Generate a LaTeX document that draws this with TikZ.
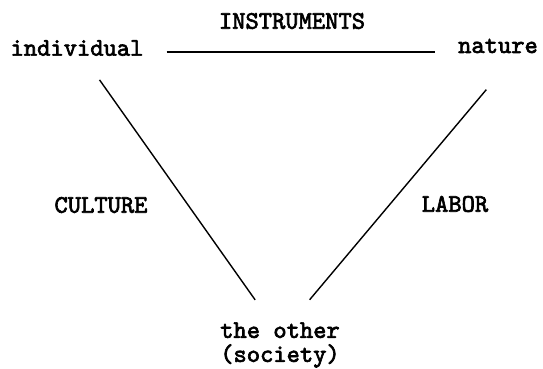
\documentclass[tikz,border=0pt]{standalone}
\usepackage{fontspec}
\newfontfamily\typewriter[Extension=.otf, FakeBold=2.6]{lmmono10-regular}
\usetikzlibrary{positioning}

\begin{document}
\begin{tikzpicture}[x=1pt,y=-1pt,
        % words of the triangle, in typewriter type
        word/.style={
            font=\typewriter\fontsize{25.3}{24}\selectfont,
            inner sep=0pt,
            align=center
        },
        % sides of the triangle
        side/.style={line width=1.4pt},
    ]
    \useasboundingbox (0,0) rectangle (543,369);

    \node[word] (ind) at (77,48) {individual};
    \node[word] (nat) at (498,46) {nature};
    \node[word] (other) at (280,345) {the other\\(society)};

    \node[word] (ins) at (292,21) {INSTRUMENTS};
    \node[word] (cul) at (101,205) {CULTURE};
    \node[word] (lab) at (455,204) {LABOR};

    \draw[side, shorten <=23pt, shorten >=23pt] ([yshift=-4pt]ind.east) -- ([yshift=-4pt]ind.east -| nat.west);

    % Lati obliqui
    \draw[side, shorten <=39pt, shorten >=43pt] (ind.center) -- ([yshift=10pt]other.center);
    \draw[side, shorten <=57pt, shorten >=46pt] ([xshift=25pt]nat.center) -- ([yshift=10pt]other.center);

\end{tikzpicture}
\end{document}
